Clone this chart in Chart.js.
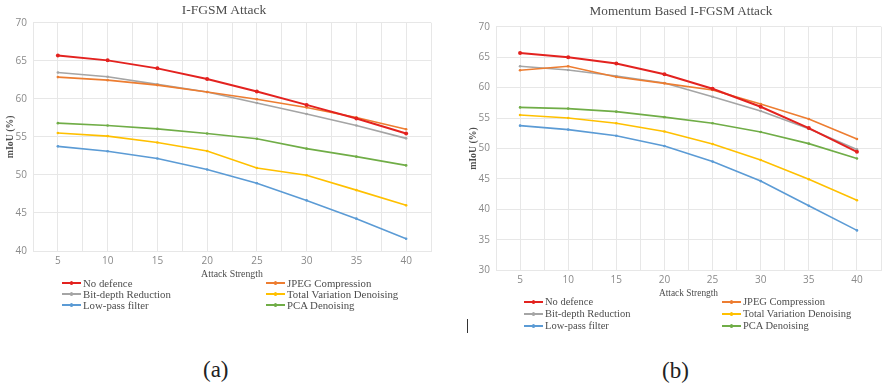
<!DOCTYPE html>
<html>
<head>
<meta charset="utf-8">
<script src="https://cdn.jsdelivr.net/npm/chart.js@4.4.1/dist/chart.umd.min.js"></script>
<style>
  body { margin: 0; width: 882px; height: 389px; overflow: hidden; background: #fff; position: relative; }
  canvas { position: absolute; top: 0; }
  .title { position: absolute; text-align: center; font-family: "Liberation Serif", serif; color: #4d4d4d; white-space: nowrap; }
  .legend { position: absolute; display: grid; font-family: "Liberation Serif", serif; color: #4d4d4d; }
  .item { display: flex; align-items: center; white-space: nowrap; }
  .swatch { position: relative; width: 19px; height: 2px; margin-right: 2px; }
  .swatch i { position: absolute; left: 8px; top: -1px; width: 3px; height: 4px; border-radius: 2px; }
  .cap { position: absolute; font-family: "Liberation Serif", serif; font-size: 23px; color: #222; }
</style>
</head>
<body>
<canvas id="chartA" width="441" height="282" style="left:0px"></canvas>
<canvas id="chartB" width="444" height="300" style="left:441px"></canvas>
<div id="titleA" class="title" style="left:124px; width:200px; top:2px; font-size:13.5px; line-height:16px;"></div>
<div id="titleB" class="title" style="left:531px; width:300px; top:3px; font-size:13.2px; line-height:16px;"></div>
<div id="legendA" class="legend" style="left:62px; top:277px; grid-template-columns:204px 204px; grid-auto-rows:11.3px; font-size:10.8px;"></div>
<div id="legendB" class="legend" style="left:524px; top:295.5px; grid-template-columns:198px 198px; grid-auto-rows:12.2px; font-size:10.5px;"></div>
<div style="position:absolute; left:467px; top:319px; width:1px; height:14px; background:#333;"></div>
<div class="cap" style="left:203px; top:357px;">(a)</div>
<div class="cap" style="left:662px; top:358px;">(b)</div>
<script>
var strengths = [5, 10, 15, 20, 25, 30, 35, 40];
var seriesNames = ['No defence', 'JPEG Compression', 'Bit-depth Reduction', 'Total Variation Denoising', 'Low-pass filter', 'PCA Denoising'];
var seriesColors = ['#e3221f', '#ed7d31', '#a5a5a5', '#ffc000', '#5b9bd5', '#70ad47'];

// I-FGSM
var ifgsmNoDefence = [65.7, 65.05, 64.0, 62.6, 60.95, 59.2, 57.4, 55.45];
var ifgsmJpeg      = [62.85, 62.45, 61.8, 60.9, 59.95, 58.85, 57.55, 56.0];
var ifgsmBitDepth  = [63.45, 62.9, 61.9, 60.9, 59.45, 58.0, 56.5, 54.8];
var ifgsmTvd       = [55.5, 55.1, 54.25, 53.15, 50.9, 49.95, 48.0, 46.0];
var ifgsmLowPass   = [53.75, 53.1, 52.15, 50.7, 48.9, 46.65, 44.25, 41.6];
var ifgsmPca       = [56.8, 56.5, 56.05, 55.45, 54.75, 53.45, 52.4, 51.25];

// Momentum based I-FGSM
var momNoDefence = [65.7, 65.0, 63.95, 62.2, 59.8, 56.85, 53.35, 49.45];
var momJpeg      = [62.85, 63.5, 61.75, 60.7, 59.6, 57.3, 54.85, 51.55];
var momBitDepth  = [63.5, 62.9, 61.9, 60.75, 58.5, 56.15, 53.25, 49.85];
var momTvd       = [55.5, 55.0, 54.15, 52.8, 50.75, 48.1, 44.95, 41.5];
var momLowPass   = [53.75, 53.1, 52.1, 50.4, 47.85, 44.65, 40.6, 36.55];
var momPca       = [56.75, 56.55, 56.05, 55.15, 54.15, 52.7, 50.8, 48.35];

var yTicksA = [40, 70, 5];
var yTicksB = [30, 70, 5];

var gridColor = '#e7e7e7';

function makeDatasets(series) {
  return series.map(function(vals, i) {
    return {
      label: seriesNames[i],
      data: strengths.map(function(s, j) { return { x: s, y: vals[j] }; }),
      borderColor: seriesColors[i],
      backgroundColor: seriesColors[i],
      borderWidth: i === 0 ? 2 : 1.6,
      pointRadius: i === 0 ? 2 : 1.3,
      pointBorderWidth: 0,
      tension: 0
    };
  });
}

function makeChart(id, cfg) {
  document.getElementById(cfg.titleId).textContent = cfg.title;
  return new Chart(document.getElementById(id), {
    type: 'line',
    data: { datasets: makeDatasets(cfg.series) },
    options: {
      responsive: false,
      animation: false,
      devicePixelRatio: 1,
      layout: { padding: { left: 0, right: cfg.padRight, top: cfg.padTop, bottom: 0 } },
      plugins: {
        legend: { display: false },
        tooltip: { enabled: false },
        title: { display: false }
      },
      scales: {
        x: {
          type: 'linear',
          min: strengths[0] - 2.5,
          max: strengths[strengths.length - 1] + 2.5,
          afterBuildTicks: function(s) {
            var t = [];
            for (var v = s.min; v <= s.max + 0.01; v += 2.5) t.push({ value: v });
            s.ticks = t;
          },
          afterFit: function(s) { s.height = cfg.xHeight; },
          grid: { color: gridColor, drawTicks: false },
          border: { color: gridColor },
          ticks: {
            autoSkip: false,
            maxRotation: 0,
            padding: cfg.xTickPad,
            color: '#8a8a8a',
            font: { family: 'Open Sans', size: 10 },
            callback: function(v) { return strengths.indexOf(v) >= 0 ? String(v) : ''; }
          },
          title: {
            display: true,
            text: 'Attack Strength',
            color: '#4d4d4d',
            font: { family: 'Liberation Serif', size: cfg.xTitleSize },
            padding: { top: 0, bottom: cfg.xTitlePad }
          }
        },
        y: {
          min: cfg.yTicks[0],
          max: cfg.yTicks[1],
          afterFit: function(s) { s.width = cfg.yWidth; },
          grid: { color: gridColor, drawTicks: false },
          border: { display: false },
          ticks: {
            stepSize: cfg.yTicks[2],
            padding: 6,
            color: '#8a8a8a',
            font: { family: 'Open Sans', size: 10 }
          },
          title: {
            display: true,
            text: 'mIoU (%)',
            color: '#4d4d4d',
            font: { family: 'Liberation Serif', size: 9.8, weight: 'bold' },
            padding: { top: cfg.yTitlePad, bottom: 0 }
          }
        }
      }
    }
  });
}

function buildLegend(id) {
  var el = document.getElementById(id);
  seriesNames.forEach(function(name, i) {
    var item = document.createElement('div');
    item.className = 'item';
    var sw = document.createElement('span');
    sw.className = 'swatch';
    sw.style.background = seriesColors[i];
    var dot = document.createElement('i');
    dot.style.background = seriesColors[i];
    sw.appendChild(dot);
    item.appendChild(sw);
    item.appendChild(document.createTextNode(name));
    el.appendChild(item);
  });
}

makeChart('chartA', {
  title: 'I-FGSM Attack', titleId: 'titleA', padTop: 22.7,
  series: [ifgsmNoDefence, ifgsmJpeg, ifgsmBitDepth, ifgsmTvd, ifgsmLowPass, ifgsmPca],
  yTicks: yTicksA, yWidth: 33, yTitlePad: 5,
  xHeight: 31, xTickPad: 4, xTitleSize: 9.8, xTitlePad: 1.6, padRight: 10
});

makeChart('chartB', {
  title: 'Momentum Based I-FGSM Attack', titleId: 'titleB', padTop: 26.7,
  series: [momNoDefence, momJpeg, momBitDepth, momTvd, momLowPass, momPca],
  yTicks: yTicksB, yWidth: 55, yTitlePad: 26.5,
  xHeight: 29.7, xTickPad: 3.5, xTitleSize: 9.4, xTitlePad: 1, padRight: 0
});

buildLegend('legendA');
buildLegend('legendB');
</script>
</body>
</html>
